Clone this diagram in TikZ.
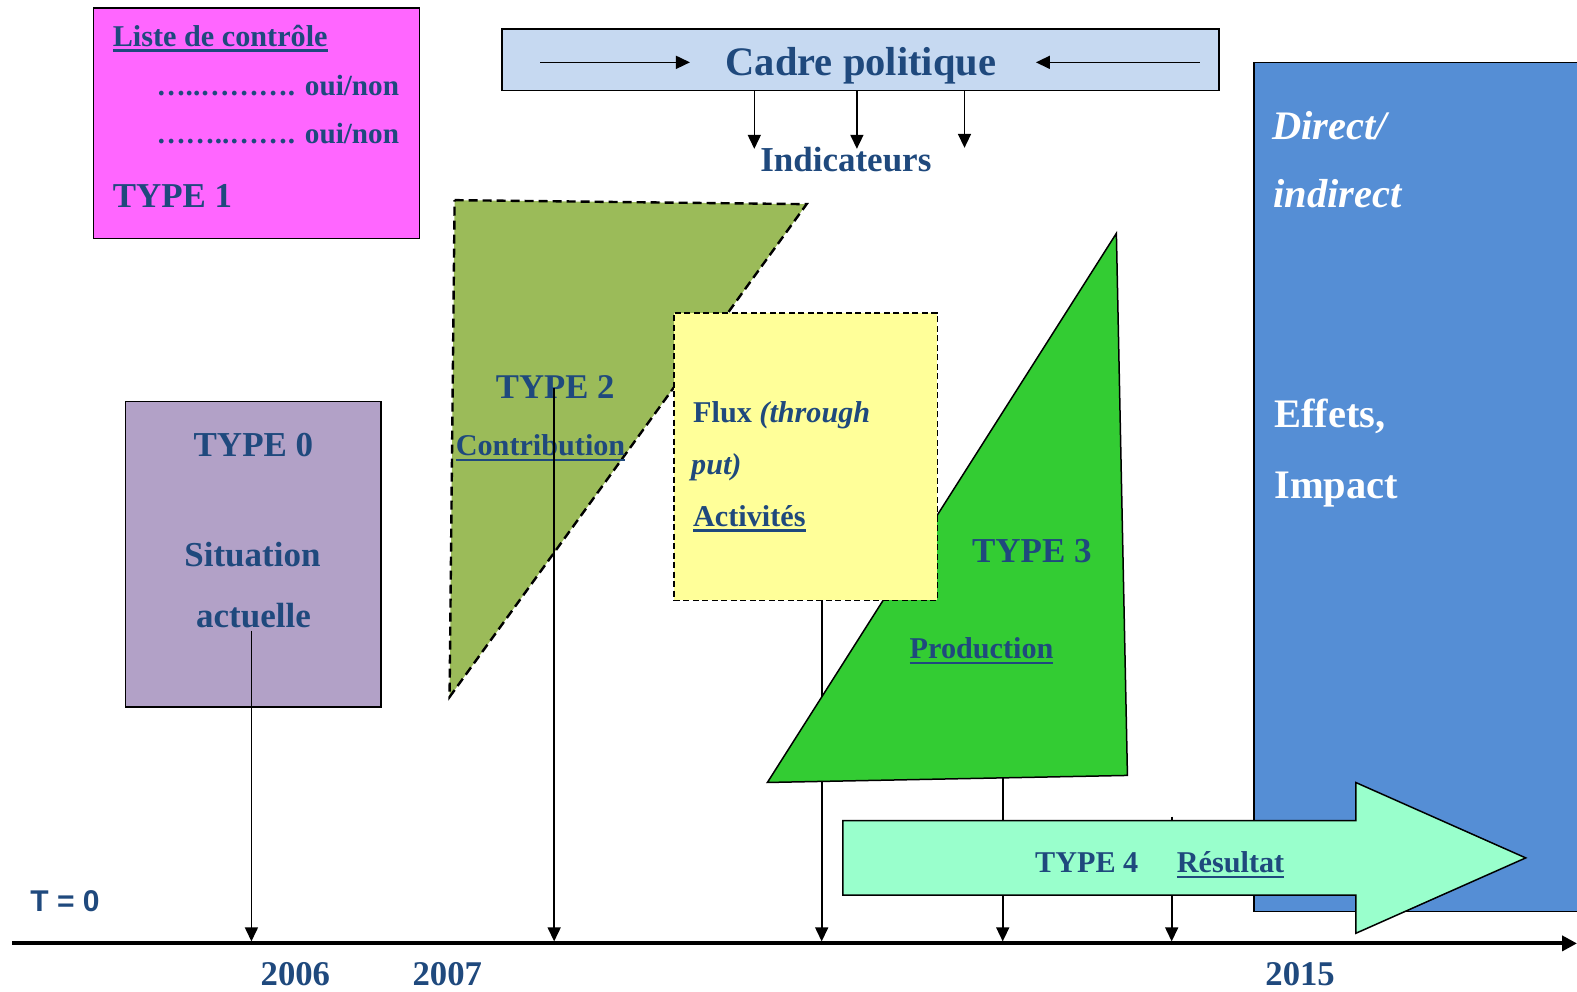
\documentclass[tikz,border=0pt]{standalone}
\usepackage{fontspec}
\setmainfont{Liberation Serif}
\newfontfamily\sansf{Liberation Sans}
\usetikzlibrary{arrows.meta}
\definecolor{txt}{RGB}{31,73,125}
\definecolor{cpink}{RGB}{255,102,255}
\definecolor{ccadre}{RGB}{198,217,241}
\definecolor{colive}{RGB}{155,187,89}
\definecolor{cyellow}{RGB}{255,255,153}
\definecolor{cgreen}{RGB}{51,204,51}
\definecolor{cpurple}{RGB}{178,161,199}
\definecolor{cmint}{RGB}{153,255,204}
\definecolor{cblue}{RGB}{85,142,213}
\newcommand{\myul}[1]{\setbox0=\hbox{#1}\rlap{\vrule height -3pt depth 5.5pt width \wd0}\box0}
\tikzset{
  lab/.style={inner sep=0pt, text=txt, font=\fontsize{#1}{#1}\selectfont\bfseries},
  wlab/.style={inner sep=0pt, text=white, font=\fontsize{#1}{#1}\selectfont\bfseries},
  wilab/.style={inner sep=0pt, text=white, font=\fontsize{#1}{#1}\selectfont\bfseries\itshape},
  box/.style={draw=black, line width=1.5pt, inner sep=0pt, outer sep=0pt, anchor=north west},
  dbox/.style={draw=black, line width=1.6pt, dash pattern=on 6pt off 3.5pt, inner sep=0pt, outer sep=0pt, anchor=north west},
  conn/.style={draw=black, line width=1.6pt, -{Triangle[length=14pt,width=13pt]}},
  axisline/.style={draw=black, line width=4pt, -{Triangle[length=15pt,width=15pt]}}
}
\begin{document}
\begin{tikzpicture}[x=1.00574pt,y=-1.00574pt]
\useasboundingbox (0,0) rectangle (1568,986);
\fill[white] (0,0) rectangle (1568,986);

% impact box (blue)
\node[box, fill=cblue, minimum width=347pt, minimum height=849pt] (impactbox) at (1247,62) {};
\node[wilab=40.5, anchor=base west] (direct) at (1265,139) {Direct/};
\node[wilab=40.5, anchor=base west] (indirect) at (1266,206) {indirect};
\node[wlab=40.5, anchor=base west] (effets) at (1267,425) {Effets,};
\node[wlab=40.5, anchor=base west] (impact) at (1267,496) {Impact};

% type 1 box
\node[box, fill=cpink, minimum width=326pt, minimum height=230.3pt] (t1box) at (93,8) {};
\node[lab=30.2, anchor=base west] (liste) at (112,46) {\myul{Liste de contrôle}};
\node[lab=29.2, anchor=base east] (oui1) at (397,95) {…..………. oui/non};
\node[lab=29.2, anchor=base east] (oui2) at (397,143) {……..……. oui/non};
\node[lab=34.9, anchor=base west] (type1) at (112,206) {TYPE 1};

% cadre politique
\node[box, fill=ccadre, minimum width=717pt, minimum height=61.4pt] (cadre) at (499,29) {};
\node[lab=40.5, anchor=base] (cadret) at (856,75) {Cadre politique};
\coordinate (hla) at (537,62);
\coordinate (hlb) at (686,62);
\coordinate (hra) at (1193,62);
\coordinate (hrb) at (1030,62);
\draw[conn] (hla) -- (hlb);
\draw[conn] (hra) -- (hrb);
\coordinate (ind1) at (750,148);
\coordinate (ind2) at (852,148);
\coordinate (ind3) at (959,147);
\draw[conn] (cadre.south -| ind1) -- (ind1);
\draw[conn] (cadre.south -| ind2) -- (ind2);
\draw[conn] (cadre.south -| ind3) -- (ind3);
\node[lab=35, anchor=base] (indic) at (841,171) {Indicateurs};

% type 2 (olive)
\draw[fill=colive, draw=black, line width=2.4pt, dash pattern=on 9pt off 5pt] (452,199) -- (802,203) -- (447,693) -- cycle;

% type 0 box
\node[box, fill=cpurple, minimum width=255.5pt, minimum height=305.7pt] (t0box) at (125,399) {};
\node[lab=35, anchor=base] (type0) at (252,454) {TYPE 0};
\node[lab=35, anchor=base] (situation) at (251,563) {Situation};
\node[lab=35, anchor=base] (actuelle) at (252,624) {actuelle};

% axis coordinates
\coordinate (ax0) at (250,936);
\coordinate (ax2) at (551,936);
\coordinate (ax3) at (817,936);
\coordinate (ax4) at (997,936);
\coordinate (ax5) at (1165,936);
\coordinate (s0) at (250,627);
\coordinate (s2) at (551,386);
\coordinate (s3) at (817,597);
\coordinate (s4) at (997,773);
\coordinate (s5) at (1165,812);

% line behind the green triangle
\draw[conn] (s3) -- (ax3);

% type 3 (green)
\draw[fill=cgreen, draw=black, line width=1.5pt] (1110,232) -- (1121,771) -- (763,778) -- cycle;
\node[lab=35, anchor=base] (type3) at (1026,559) {TYPE 3};
\node[lab=30.2, anchor=base] (production) at (976,655) {\myul{Production}};

% flux box (yellow)
\node[dbox, fill=cyellow, minimum width=263.5pt, minimum height=287.6pt] (flux) at (670,311) {};
\node[lab=30.2, anchor=base west] (fluxt) at (689,420) {Flux \textit{(through}};
\node[lab=30.2, anchor=base west] (put) at (687,472) {\textit{put)}};
\node[lab=30.2, anchor=base west] (activites) at (689,523) {\myul{Activités}};

% lines behind the type 4 arrow
\draw[conn] (s4) -- (ax4);
\draw[conn] (s5) -- (ax5);

% type 4 arrow
\draw[fill=cmint, draw=black, line width=1.5pt] (838,816) -- (1348,816) -- (1348,778) -- (1517,853) -- (1348,928) -- (1348,890) -- (838,890) -- cycle;
\node[lab=30.2, anchor=base west] (type4) at (1029,868) {TYPE 4};
\node[lab=30.2, anchor=base west] (resultat) at (1170,868) {\myul{Résultat}};

% type 2 texts and line
\node[lab=34.7, anchor=base] (type2) at (552,396) {TYPE 2};
\node[lab=30.2, anchor=base west] (contrib) at (453,453) {\myul{Contribution}};
\draw[conn] (s2) -- (ax2);
\draw[conn] (s0) -- (ax0);

% time axis
\coordinate (axs) at (12,938);
\coordinate (axe) at (1568,938);
\draw[axisline] (axs) -- (axe);
\node[inner sep=0pt, text=txt, font=\sansf\fontsize{30}{30}\selectfont\bfseries, anchor=base west] (tzero) at (30,906) {T = 0};
\node[lab=34.7, anchor=base west] (y2006) at (259,980) {2006};
\node[lab=34.7, anchor=base west] (y2007) at (410,980) {2007};
\node[lab=34.7, anchor=base west] (y2015) at (1258,980) {2015};
\end{tikzpicture}
\end{document}
